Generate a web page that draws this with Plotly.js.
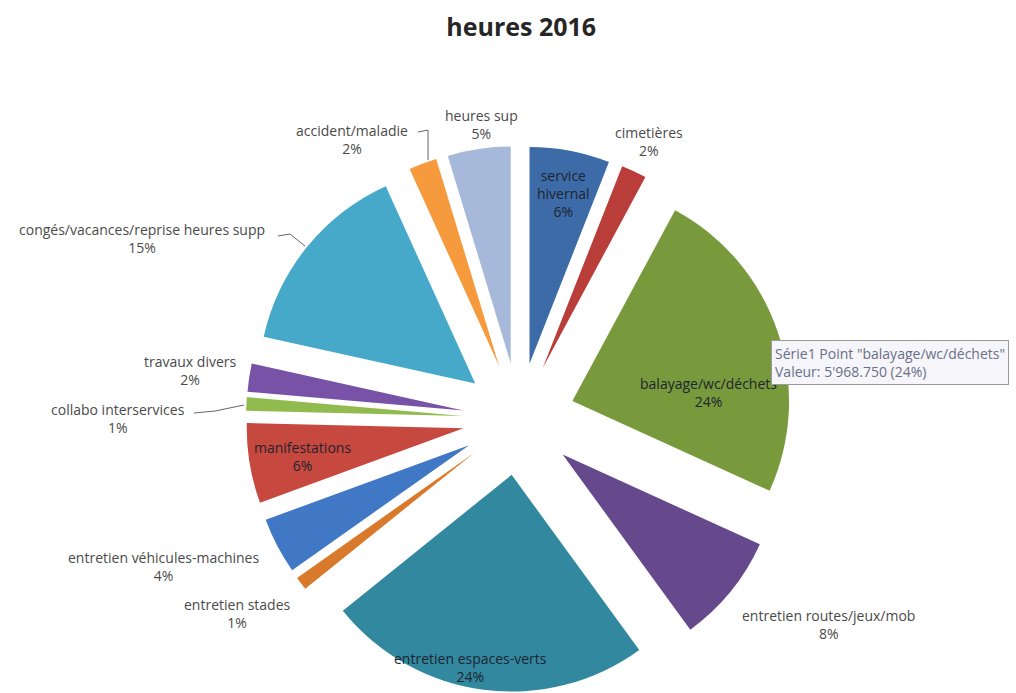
<!DOCTYPE html>
<html>
<head>
<meta charset="utf-8">
<script src="https://cdn.plot.ly/plotly-3.0.1.min.js"></script>
<style>
  body { margin: 0; background: #fff; }
  #plot { width: 1016px; height: 693px; }
</style>
</head>
<body>
<div id="plot"></div>
<script>
// heures 2016
const categories = [
  'service hivernal', 'cimetières', 'balayage/wc/déchets', 'entretien routes/jeux/mob',
  'entretien espaces-verts', 'entretien stades', 'entretien véhicules-machines', 'manifestations',
  'collabo interservices', 'travaux divers', 'congés/vacances/reprise heures supp',
  'accident/maladie', 'heures sup'
];
const hours = [1490, 470, 5968.75, 2040, 6045, 250, 1045, 1490, 250, 520, 3680, 520, 1170];
const colors = ['#3d6ba7', '#b93d39', '#789a3c', '#65498c', '#31889f', '#d9792b', '#4178c6',
  '#c6483f', '#92bb4f', '#7852a6', '#46a9c9', '#f59a3d', '#a6b9da'];

const W = 1016, H = 693;
function px(x) { return x / W; }
function py(y) { return 1 - y / H; }

let total = 0;
for (let i = 0; i < hours.length; i++) total += hours[i];
function pct(i) { return Math.round(hours[i] / total * 100) + '%'; }

// label placement (pixel centres), same order as categories
const labelPos = [
  [563, 193], [649, 141], [708, 392], [828, 624], [470, 667], [237, 613], [163, 566],
  [302, 457], [118, 418], [190, 370], [142, 238], [352, 140], [481, 124]
];
const inside = [true, false, true, false, true, false, false, true, false, false, false, false, false];

let annotations = [];
for (let i = 0; i < categories.length; i++) {
  let txt = categories[i] + '<br>' + pct(i);
  if (i === 0) txt = 'service<br>hivernal<br>' + pct(i); // wrapped inside the slice
  annotations.push({
    xref: 'paper', yref: 'paper',
    x: px(labelPos[i][0]), y: py(labelPos[i][1]),
    xanchor: 'center', yanchor: 'middle',
    text: txt, showarrow: false,
    font: { family: 'Open Sans, sans-serif', size: 14, color: inside[i] ? '#1e2430' : '#4a4a4a' }
  });
}

// hover box that was open in the screenshot
const b = 2;
const valueTxt = hours[b].toFixed(3).replace(/\B(?=(\d{3})+(?!\d))/, "'");
annotations.push({
  xref: 'paper', yref: 'paper',
  x: px(771), y: py(340), xanchor: 'left', yanchor: 'top', align: 'left',
  text: 'Série1 Point "' + categories[b] + '"<br>Valeur: ' + valueTxt + ' (' + pct(b) + ')',
  showarrow: false,
  bgcolor: '#f6f6fa', bordercolor: '#9a9a9a', borderwidth: 1, borderpad: 3,
  font: { family: 'Open Sans, sans-serif', size: 14, color: '#6a6f88' }
});

// leader lines for a few outside labels
const leaders = [
  'M 418 132 L 428 130 L 428 160',
  'M 278 236 L 290 234 L 305 246',
  'M 194 413 L 215 411 L 244 405'
];
let shapes = leaders.map(function(p) {
  let d = p.replace(/(\d+) (\d+)/g, function(m, x, y) {
    return px(+x).toFixed(4) + ',' + py(+y).toFixed(4);
  });
  return { type: 'path', xref: 'paper', yref: 'paper', path: d, line: { color: '#666', width: 1 } };
});

const trace = {
  type: 'pie',
  labels: categories,
  values: hours,
  sort: false,
  direction: 'clockwise',
  rotation: 0,
  pull: categories.map(function() { return 0.26; }),
  marker: { colors: colors, line: { width: 0 } },
  textinfo: 'none',
  hoverinfo: 'label+value+percent',
  domain: { x: [px(246), px(792)], y: [py(692), py(146)] }
};

const layout = {
  width: W, height: H,
  margin: { l: 0, r: 0, t: 0, b: 0 },
  title: {
    text: '<b>heures 2016</b>',
    x: 0.513, xanchor: 'center', y: py(27), yanchor: 'middle',
    font: { family: 'Open Sans, sans-serif', size: 25, color: '#262626' }
  },
  showlegend: false,
  paper_bgcolor: '#fff',
  annotations: annotations,
  shapes: shapes
};

Plotly.newPlot('plot', [trace], layout, { displayModeBar: false, staticPlot: true });
</script>
</body>
</html>
